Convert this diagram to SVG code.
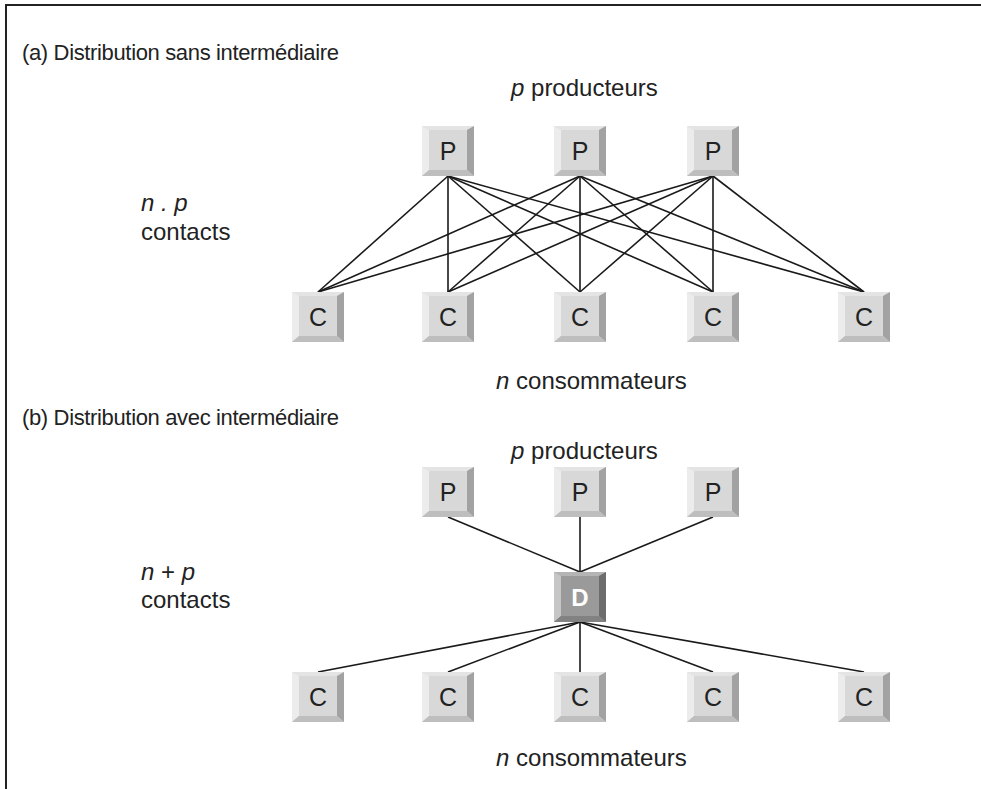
<svg xmlns="http://www.w3.org/2000/svg" xmlns:xlink="http://www.w3.org/1999/xlink" width="981" height="789" viewBox="0 0 981 789">
<style>
.t{font-family:"Liberation Sans",Arial,sans-serif;font-size:24px;fill:#222}
.h{font-size:22px;letter-spacing:-0.35px}
.i{font-style:italic}
.k{font-family:"Liberation Sans",Arial,sans-serif;font-size:25px;fill:#222;text-anchor:middle}
.kd{font-family:"Liberation Sans",Arial,sans-serif;font-size:24px;font-weight:bold;fill:#fff;text-anchor:middle}
.c line{stroke:#1a1a1a;stroke-width:1.6}
</style>
<defs>
<g id="key">
<rect x="0" y="0" width="52" height="50" fill="#d8d8d8"/>
<polygon points="0,0 52,0 45,4 7,4" fill="#e4e4e4"/>
<polygon points="0,0 7,4 7,44 0,50" fill="#ececec"/>
<polygon points="52,0 52,50 45,44 45,4" fill="#a2a2a2"/>
<polygon points="0,50 7,44 45,44 52,50" fill="#bebebe"/>
</g>
<g id="keyd">
<rect x="0" y="0" width="52" height="50" fill="#9a9a9a"/>
<polygon points="0,0 52,0 45,4 7,4" fill="#b4b4b4"/>
<polygon points="0,0 7,4 7,44 0,50" fill="#c6c6c6"/>
<polygon points="52,0 52,50 45,44 45,4" fill="#6c6c6c"/>
<polygon points="0,50 7,44 45,44 52,50" fill="#828282"/>
</g>
</defs>
<rect width="981" height="789" fill="#fff"/>
<path d="M6,789 V5 H981" fill="none" stroke="#222" stroke-width="2"/>

<text class="t h" x="22" y="60">(a) Distribution sans intermédiaire</text>
<text class="t" x="511" y="96"><tspan class="i">p</tspan> producteurs</text>
<text class="t" x="141" y="211"><tspan class="i">n . p</tspan></text>
<text class="t" x="141" y="240">contacts</text>
<text class="t" x="496" y="389"><tspan class="i">n</tspan> consommateurs</text>

<text class="t h" x="22" y="425">(b) Distribution avec intermédiaire</text>
<text class="t" x="511" y="459"><tspan class="i">p</tspan> producteurs</text>
<text class="t" x="141" y="580"><tspan class="i">n</tspan> + <tspan class="i">p</tspan></text>
<text class="t" x="141" y="608">contacts</text>
<text class="t" x="496" y="766"><tspan class="i">n</tspan> consommateurs</text>

<g class="c" id="connectors">
<line x1="448" y1="176" x2="318" y2="292"/>
<line x1="448" y1="176" x2="448" y2="292"/>
<line x1="448" y1="176" x2="580" y2="292"/>
<line x1="448" y1="176" x2="713" y2="292"/>
<line x1="448" y1="176" x2="864" y2="292"/>
<line x1="580" y1="176" x2="318" y2="292"/>
<line x1="580" y1="176" x2="448" y2="292"/>
<line x1="580" y1="176" x2="580" y2="292"/>
<line x1="580" y1="176" x2="713" y2="292"/>
<line x1="580" y1="176" x2="864" y2="292"/>
<line x1="713" y1="176" x2="318" y2="292"/>
<line x1="713" y1="176" x2="448" y2="292"/>
<line x1="713" y1="176" x2="580" y2="292"/>
<line x1="713" y1="176" x2="713" y2="292"/>
<line x1="713" y1="176" x2="864" y2="292"/>
<line x1="448" y1="517" x2="580" y2="572"/>
<line x1="580" y1="517" x2="580" y2="572"/>
<line x1="713" y1="517" x2="580" y2="572"/>
<line x1="580" y1="622" x2="318" y2="672"/>
<line x1="580" y1="622" x2="448" y2="672"/>
<line x1="580" y1="622" x2="580" y2="672"/>
<line x1="580" y1="622" x2="713" y2="672"/>
<line x1="580" y1="622" x2="864" y2="672"/>
</g>

<g id="a_p1"><use xlink:href="#key" x="422" y="126"/><text class="k" x="448" y="160">P</text></g>
<g id="a_p2"><use xlink:href="#key" x="554" y="126"/><text class="k" x="580" y="160">P</text></g>
<g id="a_p3"><use xlink:href="#key" x="687" y="126"/><text class="k" x="713" y="160">P</text></g>
<g id="a_c1"><use xlink:href="#key" x="292" y="292"/><text class="k" x="318" y="326">C</text></g>
<g id="a_c2"><use xlink:href="#key" x="422" y="292"/><text class="k" x="448" y="326">C</text></g>
<g id="a_c3"><use xlink:href="#key" x="554" y="292"/><text class="k" x="580" y="326">C</text></g>
<g id="a_c4"><use xlink:href="#key" x="687" y="292"/><text class="k" x="713" y="326">C</text></g>
<g id="a_c5"><use xlink:href="#key" x="838" y="292"/><text class="k" x="864" y="326">C</text></g>

<g id="b_p1"><use xlink:href="#key" x="422" y="467"/><text class="k" x="448" y="501">P</text></g>
<g id="b_p2"><use xlink:href="#key" x="554" y="467"/><text class="k" x="580" y="501">P</text></g>
<g id="b_p3"><use xlink:href="#key" x="687" y="467"/><text class="k" x="713" y="501">P</text></g>
<g id="b_d"><use xlink:href="#keyd" x="554" y="572"/><text class="kd" x="580" y="606">D</text></g>
<g id="b_c1"><use xlink:href="#key" x="292" y="672"/><text class="k" x="318" y="706">C</text></g>
<g id="b_c2"><use xlink:href="#key" x="422" y="672"/><text class="k" x="448" y="706">C</text></g>
<g id="b_c3"><use xlink:href="#key" x="554" y="672"/><text class="k" x="580" y="706">C</text></g>
<g id="b_c4"><use xlink:href="#key" x="687" y="672"/><text class="k" x="713" y="706">C</text></g>
<g id="b_c5"><use xlink:href="#key" x="838" y="672"/><text class="k" x="864" y="706">C</text></g>
</svg>
